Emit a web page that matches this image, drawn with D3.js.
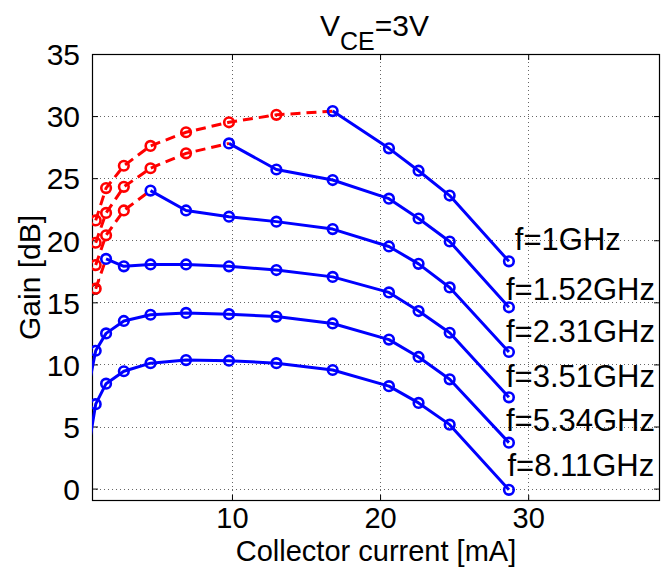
<!DOCTYPE html>
<html>
<head>
<meta charset="utf-8">
<style>
  body { margin: 0; background: #fff; }
  text { font-family: "Liberation Sans", Arial, sans-serif; fill: #000; }
</style>
</head>
<body>
<script src="https://d3js.org/d3.v7.min.js"></script>
<svg id="chart" width="662" height="568"></svg>
<script>
// collector current [mA] (first one sits just left of the axis)
var currents = [0.3, 0.8, 1.5, 2.7, 4.5, 6.9, 9.8, 13.0, 16.8, 20.6, 22.6, 24.7, 28.7];

// gain [dB] per frequency
var gain1  = [null, 21.6, 24.2, 26.0, 27.6, 28.7, 29.5, 30.1, 30.4, 27.4, 25.6, 23.6, 18.3];
var gain152 = [null, 19.8, 22.2, 24.3, 25.8, 27.0, 27.8, 25.7, 24.85, 23.35, 21.75, 19.9, 14.6];
var gain231 = [null, 18.0, 20.4, 22.4, 24.0, 22.4, 21.9, 21.5, 20.9, 19.5, 18.1, 16.2, 11.0];
var gain351 = [null, 16.1, 18.5, 17.9, 18.05, 18.05, 17.9, 17.6, 17.05, 15.8, 14.3, 12.55, 7.35];
var gain534 = [8.1, 11.1, 12.5, 13.5, 14.0, 14.15, 14.05, 13.85, 13.3, 12.0, 10.6, 8.8, 3.7];
var gain811 = [3.2, 6.8, 8.45, 9.45, 10.1, 10.35, 10.3, 10.1, 9.55, 8.25, 6.9, 5.15, -0.1];

// last index of the dashed (red) part of each curve, -1 = none
var redUntil = [8, 6, 4, 2, -1, -1];

var labels = ["f=1GHz", "f=1.52GHz", "f=2.31GHz", "f=3.51GHz", "f=5.34GHz", "f=8.11GHz"];
// label anchor (mA, dB), like matlab text()
var labelX = [29.1, 28.5, 28.5, 28.5, 28.5, 28.6];
var labelY = [19.2, 15.2, 11.8, 8.2, 4.6, 1.0];

// thin black dashed trace near the origin
var blackX = [0.3, 0.8, 1.1];
var blackY = [14.5, 16.0, 17.0];

var xTicks = [10, 20, 30];
var yTicks = [0, 5, 10, 15, 20, 25, 30, 35];

var series = [gain1, gain152, gain231, gain351, gain534, gain811];

var svg = d3.select("#chart");
var L = 92, R = 660, T = 54, B = 501;

var x = d3.scaleLinear().domain([0.55, 38.9]).range([L, R]);
var y = d3.scaleLinear().domain([-1, 35]).range([B, T]);

svg.append("defs").append("clipPath").attr("id", "clip")
  .append("rect").attr("x", L).attr("y", T).attr("width", R - L).attr("height", B - T);

// grid
var grid = svg.append("g").attr("stroke", "#666").attr("stroke-width", 1)
  .attr("stroke-dasharray", "1,3");
grid.selectAll(".gx").data(xTicks).enter().append("line")
  .attr("x1", function(d) { return Math.round(x(d)) + 0.5; })
  .attr("x2", function(d) { return Math.round(x(d)) + 0.5; })
  .attr("y1", T).attr("y2", B);
grid.selectAll(".gy").data(yTicks).enter().append("line")
  .attr("y1", function(d) { return Math.round(y(d)) + 0.5; })
  .attr("y2", function(d) { return Math.round(y(d)) + 0.5; })
  .attr("x1", L).attr("x2", R);

// axes (ticks inward, box)
var axB = d3.axisBottom(x).tickValues(xTicks).tickSizeInner(-6).tickSizeOuter(0).tickPadding(6);
var axT = d3.axisTop(x).tickValues(xTicks).tickSizeInner(-6).tickSizeOuter(0).tickFormat("");
var axL = d3.axisLeft(y).tickValues(yTicks).tickSizeInner(-6).tickSizeOuter(0).tickPadding(12);
var axR = d3.axisRight(y).tickValues(yTicks).tickSizeInner(-6).tickSizeOuter(0).tickFormat("");

function styleAxis(g) {
  g.select(".domain").remove();
  g.selectAll("line").attr("stroke", "#000");
  g.selectAll("text").style("font-size", "30px").attr("fill", "#000");
}
svg.append("g").attr("transform", "translate(0," + B + ")").call(axB).call(styleAxis)
  .selectAll("text").style("font-size", "29px");
svg.append("g").attr("transform", "translate(0," + T + ")").call(axT).call(styleAxis);
svg.append("g").attr("transform", "translate(" + L + ",0)").call(axL).call(styleAxis)
  .selectAll("text").attr("dy", "0.36em");
svg.append("g").attr("transform", "translate(" + R + ",0)").call(axR).call(styleAxis);

svg.append("rect").attr("x", L + 0.5).attr("y", T + 0.5)
  .attr("width", R - L - 1).attr("height", B - T - 1)
  .attr("fill", "none").attr("stroke", "#000").attr("stroke-width", 1.2);

var plot = svg.append("g").attr("clip-path", "url(#clip)");

var line = d3.line()
  .defined(function(d) { return d[1] !== null; })
  .x(function(d) { return x(d[0]); })
  .y(function(d) { return y(d[1]); });

function pts(vals, from, to) {
  var out = [];
  for (var i = from; i <= to; i++) if (vals[i] !== null) out.push([currents[i], vals[i]]);
  return out;
}

// black dashed trace
plot.append("path").datum(d3.zip(blackX, blackY)).attr("d", line)
  .attr("fill", "none").attr("stroke", "#000").attr("stroke-width", 1)
  .attr("stroke-dasharray", "4,3");
plot.append("circle").attr("cx", x(blackX[1])).attr("cy", y(blackY[1])).attr("r", 4.5)
  .attr("fill", "none").attr("stroke", "#000").attr("stroke-width", 1);

// red dashed parts
series.forEach(function(vals, k) {
  if (redUntil[k] < 0) return;
  var p = pts(vals, 0, redUntil[k]);
  plot.append("path").datum(p).attr("d", line)
    .attr("fill", "none").attr("stroke", "#ff0000").attr("stroke-width", 3)
    .attr("stroke-dasharray", "10,6");
  plot.selectAll(null).data(p.slice(0, -1)).enter().append("circle")
    .attr("cx", function(d) { return x(d[0]); })
    .attr("cy", function(d) { return y(d[1]); })
    .attr("r", 4.8).attr("fill", "none").attr("stroke", "#ff0000").attr("stroke-width", 2.6);
});

// blue solid parts
series.forEach(function(vals, k) {
  var p = pts(vals, Math.max(redUntil[k], 0), vals.length - 1);
  plot.append("path").datum(p).attr("d", line)
    .attr("fill", "none").attr("stroke", "#0000ff").attr("stroke-width", 3)
    .attr("stroke-linejoin", "round");
  plot.selectAll(null).data(p.filter(function(d) { return d[0] > 0.55; })).enter().append("circle")
    .attr("cx", function(d) { return x(d[0]); })
    .attr("cy", function(d) { return y(d[1]); })
    .attr("r", 4.8).attr("fill", "none").attr("stroke", "#0000ff").attr("stroke-width", 2.6);
});

// frequency labels
svg.selectAll(".flab").data(labels).enter().append("text")
  .attr("x", function(d, i) { return x(labelX[i]); })
  .attr("y", function(d, i) { return y(labelY[i]); })
  .style("font-size", "31px")
  .text(function(d) { return d; });

// title
var title = svg.append("text").attr("x", 320).attr("y", 36).style("font-size", "30px");
title.append("tspan").text("V");
title.append("tspan").attr("dy", 14).style("font-size", "25px").text("CE");
title.append("tspan").attr("dy", -14).text("=3V");

// axis labels
svg.append("text").attr("x", (L + R) / 2 - 0).attr("y", 561)
  .attr("text-anchor", "middle").style("font-size", "29px").text("Collector current [mA]");
svg.append("text").attr("transform", "translate(40," + ((T + B) / 2) + ") rotate(-90)")
  .attr("text-anchor", "middle").style("font-size", "30px").text("Gain [dB]");
</script>
</body>
</html>
